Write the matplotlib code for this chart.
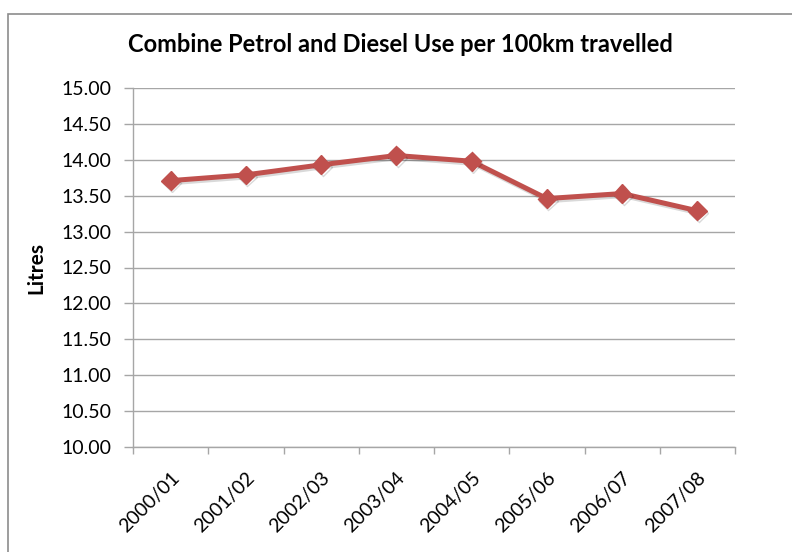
import matplotlib
matplotlib.use("Agg")
import matplotlib.pyplot as plt
import matplotlib.patheffects as pe
from matplotlib.patches import Rectangle

# Fuel use data
years = ["2000/01", "2001/02", "2002/03", "2003/04",
         "2004/05", "2005/06", "2006/07", "2007/08"]
litres = [13.71, 13.79, 13.93, 14.06, 13.98, 13.46, 13.53, 13.29]
y_ticks = [10.0, 10.5, 11.0, 11.5, 12.0, 12.5, 13.0, 13.5, 14.0, 14.5, 15.0]

title = "Combine Petrol and Diesel Use per 100km travelled"
y_label = "Litres"

plt.rcParams["font.family"] = ["Lato", "DejaVu Sans"]

W, H = 792, 552
fig = plt.figure(figsize=(W / 100, H / 100), dpi=100)

# chart-area border
fig.patches.append(Rectangle((8 / W, -0.1), 1.2, 1 - 14 / H + 0.1,
                             transform=fig.transFigure, fill=False,
                             edgecolor="#8c8c8c", linewidth=1.2))

ax = fig.add_axes([133 / W, 1 - 447 / H, (735 - 133) / W, (447 - 88) / H])

x = list(range(len(years)))
ax.plot(x, litres, color="#C0504D", linewidth=3.6, marker="D", markersize=9.5,
        markerfacecolor="#C0504D", markeredgecolor="#C0504D", zorder=3,
        solid_joinstyle="round",
        path_effects=[pe.SimpleLineShadow(offset=(1, -1.5), alpha=0.15),
                      pe.Normal()])

ax.set_xlim(-0.5, len(years) - 0.5)
ax.set_ylim(10, 15)
ax.set_yticks(y_ticks)
ax.set_yticklabels([f"{v:.2f}" for v in y_ticks], fontsize=14)
ax.yaxis.grid(True, color="#a6a6a6", linewidth=1.0)
ax.set_axisbelow(True)

# category boundaries as major ticks, labels on minor ticks
ax.set_xticks([i - 0.5 for i in range(len(years) + 1)])
ax.set_xticklabels([])
ax.set_xticks(x, minor=True)
ax.set_xticklabels(years, minor=True, rotation=45, ha="right",
                   rotation_mode="anchor", fontsize=14)
ax.tick_params(axis="x", which="major", length=5, color="#a6a6a6", width=1)
ax.tick_params(axis="x", which="minor", length=0, pad=16)
ax.tick_params(axis="y", length=6.5, color="#a6a6a6", width=1, pad=9)

for s in ["top", "right"]:
    ax.spines[s].set_visible(False)
for s in ["left", "bottom"]:
    ax.spines[s].set_color("#a6a6a6")
    ax.spines[s].set_linewidth(1.0)

ax.set_ylabel(y_label, fontsize=15, fontweight="bold", labelpad=11)
fig.text(400 / W, 1 - 44 / H, title, ha="center", va="center",
         fontsize=17, fontweight="bold")

fig.savefig("out.png", dpi=100)
